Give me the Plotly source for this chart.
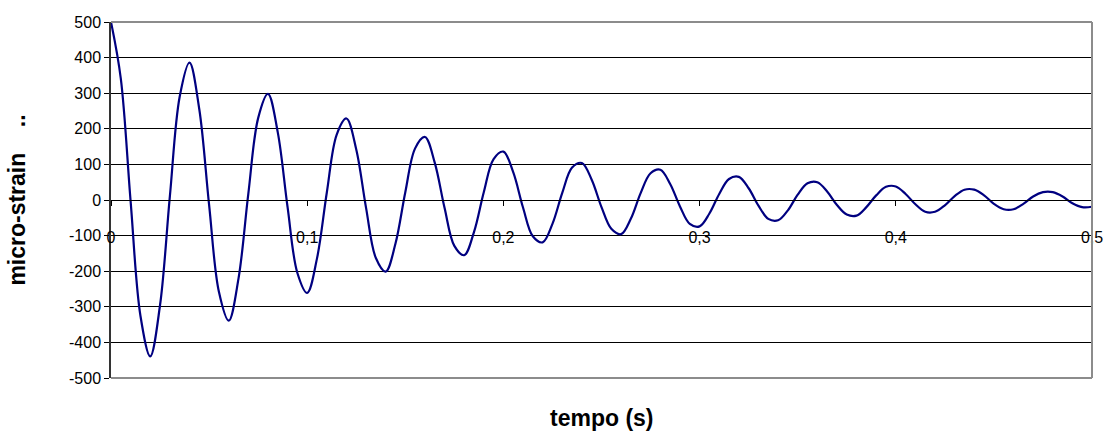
import plotly.graph_objects as go

# sample interval of the record (s)
dt = 0.005
strain = [
    500, 341, -4, -325, -439, -295, 10, 290, 386, 255,
    -14, -258, -339, -220, 18, 230, 298, 190, -20, -205,
    -261, -164, 21, 183, 229, 142, -22, -163, -201, -122,
    22, 145, 177, 105, -22, -129, -155, -90, 22, 115,
    136, 78, -21, -102, -119, -67, 20, 91, 104, 57,
    -20, -81, -96, -52, 20, 75, 85, 45, -18, -67,
    -74, -38, 17, 59, 65, 33, -16, -53, -57, -29,
    15, 47, 50, 24, -14, -41, -44, -20, 13, 37,
    38, 17, -12, -33, -33, -15, 11, 29, 29, 13,
    -11, -26, -26, -11, 10, 22, 22, 10, -9, -20,
    -19,
]
tempo = [round(i * dt, 4) for i in range(len(strain))]

x_ticks = [0, 0.1, 0.2, 0.3, 0.4, 0.5]
x_labels = ["0", "0,1", "0,2", "0,3", "0,4", "0,5"]
y_ticks = [500, 400, 300, 200, 100, 0, -100, -200, -300, -400, -500]
y_labels = ["500", "400", "300", "200", "100", "0", "-100", "-200", "-300", "-400", "-500"]

FONT = "Liberation Sans, Arial, sans-serif"

fig = go.Figure()
fig.add_trace(go.Scatter(
    x=tempo, y=strain, mode="lines",
    line=dict(color="#000080", width=2.2, shape="spline", smoothing=1.0),
    showlegend=False, hoverinfo="skip",
))

fig.update_layout(
    width=1115, height=432,
    margin=dict(l=111, r=16, t=22, b=54),
    paper_bgcolor="white", plot_bgcolor="white",
    font=dict(family=FONT, size=16, color="black"),
    xaxis=dict(
        range=[0, 0.5], tickvals=x_ticks, ticktext=x_labels,
        anchor="free", position=0.5,
        showgrid=False, zeroline=False,
        showline=True, linecolor="black", linewidth=1,
        ticks="outside", ticklen=5, tickcolor="black", tickwidth=1,
        ticklabelstandoff=18,
        tickfont=dict(family=FONT, size=16, color="black"),
    ),
    yaxis=dict(
        range=[-500, 500], tickvals=y_ticks, ticktext=y_labels,
        showgrid=True, gridcolor="black", gridwidth=1,
        zeroline=False,
        showline=True, linecolor="#333333", linewidth=1.5,
        ticks="outside", ticklen=5, tickcolor="black", tickwidth=1,
        tickfont=dict(family=FONT, size=16, color="black"),
        title=dict(text="micro-strain\u00a0\u00a0\u00a0\u00a0..",
                   font=dict(family=FONT, size=23, color="black", weight="bold"),
                   standoff=37),
    ),
    shapes=[
        dict(type="line", xref="paper", yref="paper", x0=0, x1=1, y0=1, y1=1,
             line=dict(color="#8c8c8c", width=2), layer="above"),
        dict(type="line", xref="paper", yref="paper", x0=1, x1=1, y0=0, y1=1,
             line=dict(color="#8c8c8c", width=2), layer="above"),
        dict(type="line", xref="paper", yref="paper", x0=0, x1=1, y0=0, y1=0,
             line=dict(color="#8c8c8c", width=2), layer="above"),
    ],
    annotations=[
        dict(text="<b>tempo (s)</b>", xref="paper", yref="paper", x=0.5, y=0,
             yshift=-40, xanchor="center", yanchor="middle", showarrow=False,
             font=dict(family=FONT, size=23, color="black")),
    ],
)

fig.write_html(
    "out.html",
    config={"displayModeBar": False},
    post_script="document.body.style.margin='0';document.body.style.overflow='hidden';",
)
